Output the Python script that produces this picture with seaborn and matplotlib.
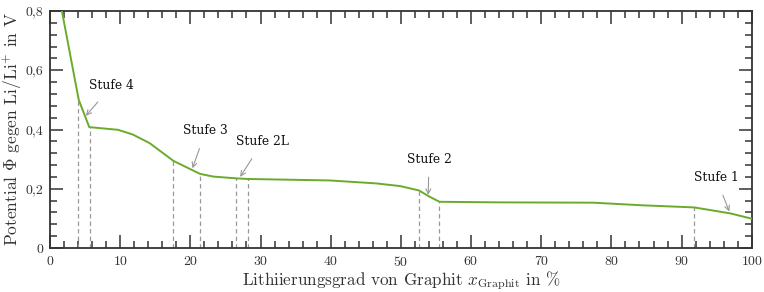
import numpy as np
import pandas as pd
import matplotlib
matplotlib.use("Agg")
import matplotlib.pyplot as plt
import seaborn as sns
from matplotlib.ticker import MultipleLocator, FuncFormatter

# ---- data ----
x_graphit = [1.7, 4.1, 5.6, 9.7, 11.8, 14.2, 17.6, 21.4, 23.3, 26.6, 28.2, 39.9,
             46.5, 49.9, 52.6, 54.1, 55.5, 64.1, 77.4, 84.5, 91.8, 96.9, 100.0]
potential = [0.80, 0.50, 0.408, 0.399, 0.383, 0.354, 0.294, 0.250, 0.241, 0.235,
             0.233, 0.228, 0.218, 0.209, 0.194, 0.173, 0.156, 0.154, 0.153, 0.144,
             0.137, 0.117, 0.099]
stage_bounds = [4.0, 5.7, 17.6, 21.4, 26.5, 28.2, 52.6, 55.45, 91.8]
stage_labels = ["Stufe 4", "Stufe 3", "Stufe 2L", "Stufe 2", "Stufe 1"]
label_pos_x = [8.8, 22.2, 30.3, 54.0, 94.9]
label_pos_y = [0.547, 0.395, 0.358, 0.30, 0.2375]
arrow_tip_x = [5.1, 20.3, 27.1, 53.9, 96.8]
arrow_tip_y = [0.446, 0.269, 0.240, 0.179, 0.123]
x_ticks = [0, 10, 20, 30, 40, 50, 60, 70, 80, 90, 100]
y_ticks = [0, 0.2, 0.4, 0.6, 0.8]

df = pd.DataFrame({"x": x_graphit, "phi": potential})

sns.set_theme(style="ticks")
plt.rcParams["font.family"] = ["cmr10", "DejaVu Serif"]
plt.rcParams["mathtext.fontset"] = "cm"
plt.rcParams["axes.formatter.use_mathtext"] = True

fig = plt.figure(figsize=(7.64, 2.92), dpi=100)
ax = fig.add_axes([0.0654, 0.1507, 0.9186, 0.8116])

spine_col = "#333333"
for bx in stage_bounds:
    top = np.interp(bx, x_graphit, potential)
    ax.plot([bx, bx], [0, top], color="#999999", lw=0.9, ls=(0, (3.5, 2.5)), zorder=1)

sns.lineplot(data=df, x="x", y="phi", ax=ax, color="#6aab2b", lw=1.4, zorder=3)

for lab, tx, ty, hx, hy in zip(stage_labels, label_pos_x, label_pos_y, arrow_tip_x, arrow_tip_y):
    ax.annotate(lab, xy=(hx, hy), xytext=(tx, ty), textcoords="data",
                ha="center", va="center", fontsize=8.8, family="DejaVu Serif",
                color="#111111",
                arrowprops=dict(arrowstyle="->", color="#999999", lw=0.8,
                                shrinkA=6, shrinkB=0))

ax.set_xlim(0, 100)
ax.set_ylim(0, 0.8)
ax.set_xticks(x_ticks)
ax.set_yticks(y_ticks)
ax.xaxis.set_minor_locator(MultipleLocator(2))
ax.yaxis.set_minor_locator(MultipleLocator(0.04))
ax.yaxis.set_major_formatter(FuncFormatter(lambda v, p: ("%g" % v).replace(".", ",")))
ax.tick_params(which="both", direction="in", top=True, right=True,
               color=spine_col, labelsize=10, labelcolor="#333333", width=1.1)
ax.tick_params(which="major", length=9.5, pad=5)
ax.tick_params(which="minor", length=5)
for s in ax.spines.values():
    s.set_color(spine_col)
    s.set_linewidth(1.3)

ax.set_xlabel(r"Lithiierungsgrad von Graphit $x_{\mathrm{Graphit}}$ in %",
              fontsize=12.3, color="#333333", labelpad=0)
ax.set_ylabel(r"Potential $\Phi$ gegen Li/Li$^{+}$ in V",
              fontsize=12.5, color="#333333")
ax.yaxis.set_label_coords(-0.037, 0.5)

fig.savefig("out.png", dpi=100)
